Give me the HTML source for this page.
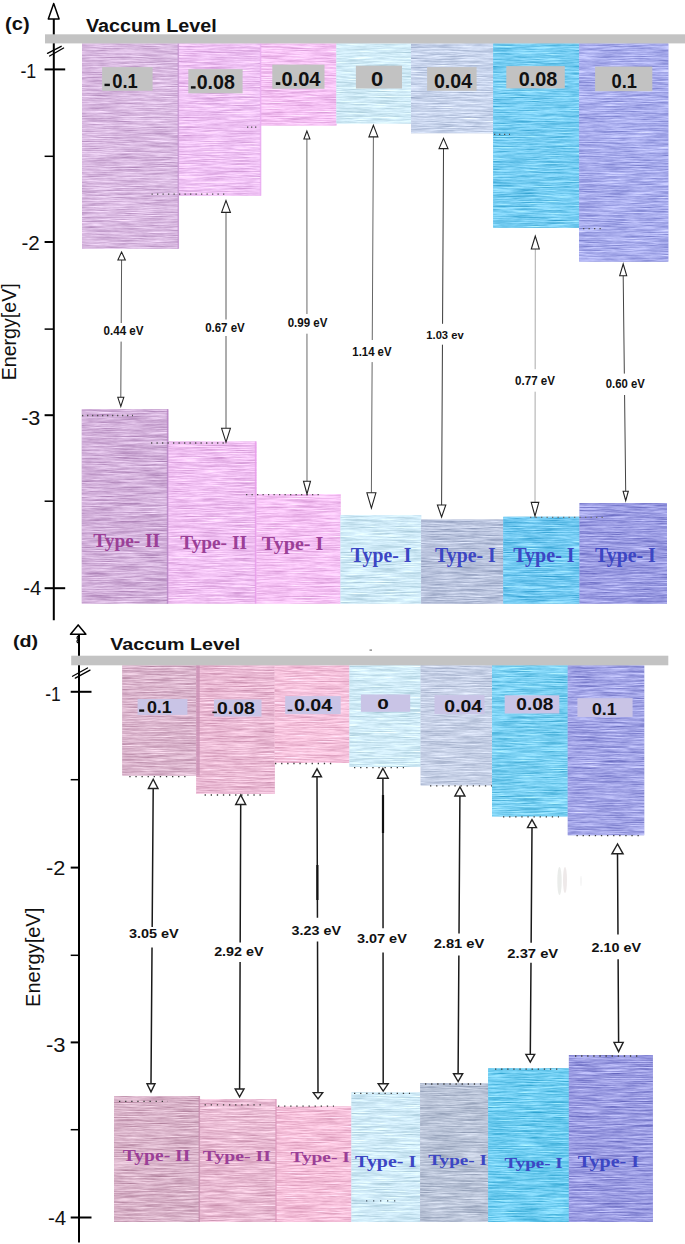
<!DOCTYPE html><html><head><meta charset="utf-8"><style>html,body{margin:0;padding:0;background:#fff;width:685px;height:1244px;overflow:hidden}svg{display:block}</style></head><body>
<svg width="685" height="1244" viewBox="0 0 685 1244">
<defs><filter id="fcc0" x="0" y="0" width="1" height="1" color-interpolation-filters="sRGB"><feTurbulence type="fractalNoise" baseFrequency="0.035 1.2" numOctaves="4" seed="0"/><feColorMatrix type="matrix" values="0.3867 0 0 0 0.6537  0.4702 0 0 0 0.4865  0.3658 0 0 0 0.6955  0 0 0 0 1"/><feComposite in2="SourceGraphic" operator="in"/></filter><filter id="fcc1" x="0" y="0" width="1" height="1" color-interpolation-filters="sRGB"><feTurbulence type="fractalNoise" baseFrequency="0.035 1.2" numOctaves="4" seed="7"/><feColorMatrix type="matrix" values="0.3267 0 0 0 0.7739  0.4441 0 0 0 0.5387  0.3137 0 0 0 0.8000  0 0 0 0 1"/><feComposite in2="SourceGraphic" operator="in"/></filter><filter id="fcc2" x="0" y="0" width="1" height="1" color-interpolation-filters="sRGB"><feTurbulence type="fractalNoise" baseFrequency="0.035 1.2" numOctaves="4" seed="14"/><feColorMatrix type="matrix" values="0.3111 0 0 0 0.8052  0.4441 0 0 0 0.5387  0.3137 0 0 0 0.8000  0 0 0 0 1"/><feComposite in2="SourceGraphic" operator="in"/></filter><filter id="fcc3" x="0" y="0" width="1" height="1" color-interpolation-filters="sRGB"><feTurbulence type="fractalNoise" baseFrequency="0.035 1.2" numOctaves="4" seed="21"/><feColorMatrix type="matrix" values="0.4076 0 0 0 0.6119  0.3372 0 0 0 0.7530  0.3059 0 0 0 0.8157  0 0 0 0 1"/><feComposite in2="SourceGraphic" operator="in"/></filter><filter id="fcc4" x="0" y="0" width="1" height="1" color-interpolation-filters="sRGB"><feTurbulence type="fractalNoise" baseFrequency="0.035 1.2" numOctaves="4" seed="28"/><feColorMatrix type="matrix" values="0.4284 0 0 0 0.5701  0.3971 0 0 0 0.6328  0.3345 0 0 0 0.7582  0 0 0 0 1"/><feComposite in2="SourceGraphic" operator="in"/></filter><filter id="fcc5" x="0" y="0" width="1" height="1" color-interpolation-filters="sRGB"><feTurbulence type="fractalNoise" baseFrequency="0.035 1.2" numOctaves="4" seed="35"/><feColorMatrix type="matrix" values="0.6423 0 0 0 0.1416  0.4154 0 0 0 0.5962  0.3189 0 0 0 0.7896  0 0 0 0 1"/><feComposite in2="SourceGraphic" operator="in"/></filter><filter id="fcc6" x="0" y="0" width="1" height="1" color-interpolation-filters="sRGB"><feTurbulence type="fractalNoise" baseFrequency="0.035 1.2" numOctaves="4" seed="42"/><feColorMatrix type="matrix" values="0.5119 0 0 0 0.4029  0.5015 0 0 0 0.4238  0.3345 0 0 0 0.7582  0 0 0 0 1"/><feComposite in2="SourceGraphic" operator="in"/></filter><filter id="fcv0" x="0" y="0" width="1" height="1" color-interpolation-filters="sRGB"><feTurbulence type="fractalNoise" baseFrequency="0.035 1.2" numOctaves="4" seed="3"/><feColorMatrix type="matrix" values="0.4024 0 0 0 0.6224  0.4910 0 0 0 0.4447  0.3815 0 0 0 0.6642  0 0 0 0 1"/><feComposite in2="SourceGraphic" operator="in"/></filter><filter id="fcv1" x="0" y="0" width="1" height="1" color-interpolation-filters="sRGB"><feTurbulence type="fractalNoise" baseFrequency="0.035 1.2" numOctaves="4" seed="10"/><feColorMatrix type="matrix" values="0.3241 0 0 0 0.7791  0.4493 0 0 0 0.5283  0.3189 0 0 0 0.7896  0 0 0 0 1"/><feComposite in2="SourceGraphic" operator="in"/></filter><filter id="fcv2" x="0" y="0" width="1" height="1" color-interpolation-filters="sRGB"><feTurbulence type="fractalNoise" baseFrequency="0.035 1.2" numOctaves="4" seed="17"/><feColorMatrix type="matrix" values="0.3111 0 0 0 0.8052  0.4441 0 0 0 0.5387  0.3137 0 0 0 0.8000  0 0 0 0 1"/><feComposite in2="SourceGraphic" operator="in"/></filter><filter id="fcv3" x="0" y="0" width="1" height="1" color-interpolation-filters="sRGB"><feTurbulence type="fractalNoise" baseFrequency="0.035 1.2" numOctaves="4" seed="24"/><feColorMatrix type="matrix" values="0.4102 0 0 0 0.6067  0.3398 0 0 0 0.7478  0.3059 0 0 0 0.8157  0 0 0 0 1"/><feComposite in2="SourceGraphic" operator="in"/></filter><filter id="fcv4" x="0" y="0" width="1" height="1" color-interpolation-filters="sRGB"><feTurbulence type="fractalNoise" baseFrequency="0.035 1.2" numOctaves="4" seed="31"/><feColorMatrix type="matrix" values="0.4702 0 0 0 0.4865  0.4441 0 0 0 0.5387  0.3763 0 0 0 0.6746  0 0 0 0 1"/><feComposite in2="SourceGraphic" operator="in"/></filter><filter id="fcv5" x="0" y="0" width="1" height="1" color-interpolation-filters="sRGB"><feTurbulence type="fractalNoise" baseFrequency="0.035 1.2" numOctaves="4" seed="38"/><feColorMatrix type="matrix" values="0.6579 0 0 0 0.1103  0.4284 0 0 0 0.5701  0.3241 0 0 0 0.7791  0 0 0 0 1"/><feComposite in2="SourceGraphic" operator="in"/></filter><filter id="fcv6" x="0" y="0" width="1" height="1" color-interpolation-filters="sRGB"><feTurbulence type="fractalNoise" baseFrequency="0.035 1.2" numOctaves="4" seed="45"/><feColorMatrix type="matrix" values="0.5484 0 0 0 0.3297  0.5458 0 0 0 0.3350  0.3606 0 0 0 0.7060  0 0 0 0 1"/><feComposite in2="SourceGraphic" operator="in"/></filter><filter id="fdc0" x="0" y="0" width="1" height="1" color-interpolation-filters="sRGB"><feTurbulence type="fractalNoise" baseFrequency="0.035 1.2" numOctaves="4" seed="50"/><feColorMatrix type="matrix" values="0.3815 0 0 0 0.6642  0.4806 0 0 0 0.4656  0.4180 0 0 0 0.5910  0 0 0 0 1"/><feComposite in2="SourceGraphic" operator="in"/></filter><filter id="fdc1" x="0" y="0" width="1" height="1" color-interpolation-filters="sRGB"><feTurbulence type="fractalNoise" baseFrequency="0.035 1.2" numOctaves="4" seed="57"/><feColorMatrix type="matrix" values="0.3398 0 0 0 0.7478  0.4649 0 0 0 0.4969  0.3971 0 0 0 0.6328  0 0 0 0 1"/><feComposite in2="SourceGraphic" operator="in"/></filter><filter id="fdc2" x="0" y="0" width="1" height="1" color-interpolation-filters="sRGB"><feTurbulence type="fractalNoise" baseFrequency="0.035 1.2" numOctaves="4" seed="64"/><feColorMatrix type="matrix" values="0.3111 0 0 0 0.8052  0.4441 0 0 0 0.5387  0.3763 0 0 0 0.6746  0 0 0 0 1"/><feComposite in2="SourceGraphic" operator="in"/></filter><filter id="fdc3" x="0" y="0" width="1" height="1" color-interpolation-filters="sRGB"><feTurbulence type="fractalNoise" baseFrequency="0.035 1.2" numOctaves="4" seed="71"/><feColorMatrix type="matrix" values="0.4076 0 0 0 0.6119  0.3372 0 0 0 0.7530  0.3059 0 0 0 0.8157  0 0 0 0 1"/><feComposite in2="SourceGraphic" operator="in"/></filter><filter id="fdc4" x="0" y="0" width="1" height="1" color-interpolation-filters="sRGB"><feTurbulence type="fractalNoise" baseFrequency="0.035 1.2" numOctaves="4" seed="78"/><feColorMatrix type="matrix" values="0.4336 0 0 0 0.5596  0.4076 0 0 0 0.6119  0.3502 0 0 0 0.7269  0 0 0 0 1"/><feComposite in2="SourceGraphic" operator="in"/></filter><filter id="fdc5" x="0" y="0" width="1" height="1" color-interpolation-filters="sRGB"><feTurbulence type="fractalNoise" baseFrequency="0.035 1.2" numOctaves="4" seed="85"/><feColorMatrix type="matrix" values="0.6318 0 0 0 0.1625  0.4076 0 0 0 0.6119  0.3189 0 0 0 0.7896  0 0 0 0 1"/><feComposite in2="SourceGraphic" operator="in"/></filter><filter id="fdc6" x="0" y="0" width="1" height="1" color-interpolation-filters="sRGB"><feTurbulence type="fractalNoise" baseFrequency="0.035 1.2" numOctaves="4" seed="92"/><feColorMatrix type="matrix" values="0.5275 0 0 0 0.3715  0.5223 0 0 0 0.3820  0.3502 0 0 0 0.7269  0 0 0 0 1"/><feComposite in2="SourceGraphic" operator="in"/></filter><filter id="fdv0" x="0" y="0" width="1" height="1" color-interpolation-filters="sRGB"><feTurbulence type="fractalNoise" baseFrequency="0.035 1.2" numOctaves="4" seed="53"/><feColorMatrix type="matrix" values="0.3867 0 0 0 0.6537  0.4858 0 0 0 0.4551  0.4284 0 0 0 0.5701  0 0 0 0 1"/><feComposite in2="SourceGraphic" operator="in"/></filter><filter id="fdv1" x="0" y="0" width="1" height="1" color-interpolation-filters="sRGB"><feTurbulence type="fractalNoise" baseFrequency="0.035 1.2" numOctaves="4" seed="60"/><feColorMatrix type="matrix" values="0.3450 0 0 0 0.7373  0.4649 0 0 0 0.4969  0.4024 0 0 0 0.6224  0 0 0 0 1"/><feComposite in2="SourceGraphic" operator="in"/></filter><filter id="fdv2" x="0" y="0" width="1" height="1" color-interpolation-filters="sRGB"><feTurbulence type="fractalNoise" baseFrequency="0.035 1.2" numOctaves="4" seed="67"/><feColorMatrix type="matrix" values="0.3111 0 0 0 0.8052  0.4493 0 0 0 0.5283  0.3815 0 0 0 0.6642  0 0 0 0 1"/><feComposite in2="SourceGraphic" operator="in"/></filter><filter id="fdv3" x="0" y="0" width="1" height="1" color-interpolation-filters="sRGB"><feTurbulence type="fractalNoise" baseFrequency="0.035 1.2" numOctaves="4" seed="74"/><feColorMatrix type="matrix" values="0.4102 0 0 0 0.6067  0.3398 0 0 0 0.7478  0.3059 0 0 0 0.8157  0 0 0 0 1"/><feComposite in2="SourceGraphic" operator="in"/></filter><filter id="fdv4" x="0" y="0" width="1" height="1" color-interpolation-filters="sRGB"><feTurbulence type="fractalNoise" baseFrequency="0.035 1.2" numOctaves="4" seed="81"/><feColorMatrix type="matrix" values="0.4702 0 0 0 0.4865  0.4441 0 0 0 0.5387  0.3919 0 0 0 0.6433  0 0 0 0 1"/><feComposite in2="SourceGraphic" operator="in"/></filter><filter id="fdv5" x="0" y="0" width="1" height="1" color-interpolation-filters="sRGB"><feTurbulence type="fractalNoise" baseFrequency="0.035 1.2" numOctaves="4" seed="88"/><feColorMatrix type="matrix" values="0.6631 0 0 0 0.0998  0.4180 0 0 0 0.5910  0.3241 0 0 0 0.7791  0 0 0 0 1"/><feComposite in2="SourceGraphic" operator="in"/></filter><filter id="fdv6" x="0" y="0" width="1" height="1" color-interpolation-filters="sRGB"><feTurbulence type="fractalNoise" baseFrequency="0.035 1.2" numOctaves="4" seed="95"/><feColorMatrix type="matrix" values="0.5458 0 0 0 0.3350  0.5432 0 0 0 0.3402  0.3606 0 0 0 0.7060  0 0 0 0 1"/><feComposite in2="SourceGraphic" operator="in"/></filter></defs>
<rect x="82" y="43.4" width="96.50" height="205.30" fill="#d8b8e0"/>
<rect x="82" y="43.4" width="96.50" height="205.30" fill="#000" filter="url(#fcc0)"/>
<rect x="178.5" y="43.4" width="82.30" height="152.30" fill="#efc2f4"/>
<rect x="178.5" y="43.4" width="82.30" height="152.30" fill="#000" filter="url(#fcc1)"/>
<rect x="260.8" y="43.4" width="75.70" height="82.10" fill="#f5c2f4"/>
<rect x="260.8" y="43.4" width="75.70" height="82.10" fill="#000" filter="url(#fcc2)"/>
<rect x="336.5" y="43.4" width="74.50" height="80.10" fill="#d0ebf7"/>
<rect x="336.5" y="43.4" width="74.50" height="80.10" fill="#000" filter="url(#fcc3)"/>
<rect x="411" y="43.4" width="82.20" height="89.80" fill="#c8d4ec"/>
<rect x="411" y="43.4" width="82.20" height="89.80" fill="#000" filter="url(#fcc4)"/>
<rect x="493.2" y="43.4" width="85.90" height="184.30" fill="#76cdf2"/>
<rect x="493.2" y="43.4" width="85.90" height="184.30" fill="#000" filter="url(#fcc5)"/>
<rect x="579.1" y="43.4" width="89.20" height="218.20" fill="#a8acec"/>
<rect x="579.1" y="43.4" width="89.20" height="218.20" fill="#000" filter="url(#fcc6)"/>
<rect x="81.8" y="409.2" width="86.40" height="194.40" fill="#d2b0da"/>
<rect x="81.8" y="409.2" width="86.40" height="194.40" fill="#000" filter="url(#fcv0)"/>
<rect x="168.2" y="441.5" width="88.20" height="162.10" fill="#f0c0f2"/>
<rect x="168.2" y="441.5" width="88.20" height="162.10" fill="#000" filter="url(#fcv1)"/>
<rect x="256.4" y="494" width="84.20" height="109.60" fill="#f5c2f4"/>
<rect x="256.4" y="494" width="84.20" height="109.60" fill="#000" filter="url(#fcv2)"/>
<rect x="340.6" y="515" width="80.60" height="88.60" fill="#cfeaf7"/>
<rect x="340.6" y="515" width="80.60" height="88.60" fill="#000" filter="url(#fcv3)"/>
<rect x="421.2" y="519.6" width="82.10" height="84.00" fill="#b8c2dc"/>
<rect x="421.2" y="519.6" width="82.10" height="84.00" fill="#000" filter="url(#fcv4)"/>
<rect x="503.3" y="516.8" width="76.30" height="86.80" fill="#70c8f0"/>
<rect x="503.3" y="516.8" width="76.30" height="86.80" fill="#000" filter="url(#fcv5)"/>
<rect x="579.6" y="503" width="87.40" height="100.60" fill="#9a9be2"/>
<rect x="579.6" y="503" width="87.40" height="100.60" fill="#000" filter="url(#fcv6)"/>
<rect x="166.85" y="409.2" width="1.5" height="194.40" fill="#b781c4" opacity="0.8"/>
<rect x="254.85" y="441.5" width="1.5" height="162.10" fill="#e79aea" opacity="0.8"/>
<rect x="177.55" y="43.4" width="1.5" height="205.30" fill="#c494d0" opacity="0.8"/>
<rect x="259.85" y="43.4" width="1.5" height="152.30" fill="#e9aaf0" opacity="0.8"/>
<line x1="151.5" y1="194.2" x2="227" y2="194.2" stroke="#505050" stroke-width="1.3" stroke-dasharray="1.3 4.2"/>
<line x1="247" y1="127.2" x2="258" y2="127.2" stroke="#505050" stroke-width="1.3" stroke-dasharray="1.3 2.7"/>
<line x1="494" y1="134.3" x2="510" y2="134.3" stroke="#505050" stroke-width="1.3" stroke-dasharray="1.3 3.7"/>
<line x1="583" y1="228.6" x2="605" y2="228.6" stroke="#505050" stroke-width="1.3" stroke-dasharray="1.3 4.2"/>
<line x1="82" y1="415.5" x2="133" y2="415.5" stroke="#505050" stroke-width="1.3" stroke-dasharray="1.3 3.7"/>
<line x1="151" y1="443" x2="227" y2="443" stroke="#505050" stroke-width="1.3" stroke-dasharray="1.3 4.2"/>
<line x1="246" y1="494.6" x2="323" y2="494.6" stroke="#505050" stroke-width="1.3" stroke-dasharray="1.3 4.2"/>
<line x1="530" y1="517.3" x2="604" y2="517.3" stroke="#707070" stroke-width="1.3" stroke-dasharray="1.3 4.2"/>
<line x1="53.8" y1="19" x2="53.8" y2="620.3" stroke="#000" stroke-width="2"/>
<path d="M53.7 3.4 L48.300000000000004 19 L59.1 19 Z" fill="#fff" stroke="#000" stroke-width="1.5" stroke-linejoin="round"/>
<rect x="45" y="34.3" width="640.00" height="9.10" fill="#c3c3c3"/>
<rect x="102.1" y="67.1" width="50.50" height="23.70" fill="#c2c2c2"/>
<rect x="188.3" y="69.1" width="54.30" height="24.20" fill="#c2c2c2"/>
<rect x="272.3" y="64.6" width="52.20" height="24.20" fill="#c2c2c2"/>
<rect x="355.9" y="65.7" width="46.10" height="22.80" fill="#c2c2c2"/>
<rect x="427.1" y="67.1" width="49.50" height="23.70" fill="#c2c2c2"/>
<rect x="506.3" y="66.1" width="58.50" height="22.30" fill="#c2c2c2"/>
<rect x="595.1" y="66.6" width="57.20" height="24.60" fill="#c2c2c2"/>
<rect x="104.5" y="83.7" width="5.40" height="2.40" fill="#111"/>
<rect x="190.9" y="86.2" width="4.70" height="2.40" fill="#111"/>
<rect x="275.8" y="82.2" width="4.50" height="2.80" fill="#111"/>
<line x1="47.5" y1="53.3" x2="61.2" y2="46.3" stroke="#000" stroke-width="1.3" stroke-linecap="round"/>
<line x1="49.6" y1="56" x2="63.6" y2="48" stroke="#000" stroke-width="1.3" stroke-linecap="round"/>
<line x1="44.6" y1="69.4" x2="65.2" y2="69.4" stroke="#000" stroke-width="2"/>
<line x1="44.6" y1="242" x2="53.8" y2="242" stroke="#000" stroke-width="2"/>
<line x1="44.6" y1="415.2" x2="53.8" y2="415.2" stroke="#000" stroke-width="2"/>
<line x1="44.6" y1="588.2" x2="65.2" y2="588.2" stroke="#000" stroke-width="2"/>
<line x1="44.6" y1="156.3" x2="53.8" y2="156.3" stroke="#000" stroke-width="1.5"/>
<line x1="44.6" y1="329.1" x2="53.8" y2="329.1" stroke="#000" stroke-width="1.5"/>
<line x1="44.6" y1="501.2" x2="53.8" y2="501.2" stroke="#000" stroke-width="1.5"/>
<path d="M121.6 260 L121.23 323 M121.12 341.6 L120.8 397.3" stroke="#5a5a5a" stroke-width="1.0" fill="none"/>
<path d="M121.6 252 L117.89999999999999 260 L125.3 260 Z" fill="#fff" stroke="#222" stroke-width="1.1"/>
<path d="M120.8 406.4 L117.8 397.3 L123.8 397.3 Z" fill="#fff" stroke="#222" stroke-width="1.1"/>
<path d="M226 212.4 L226.00 319.5 M226.00 336 L226 428.3" stroke="#5a5a5a" stroke-width="1.0" fill="none"/>
<path d="M226 200.5 L221.6 212.4 L230.4 212.4 Z" fill="#fff" stroke="#222" stroke-width="1.1"/>
<path d="M226 442.2 L221.6 428.3 L230.4 428.3 Z" fill="#fff" stroke="#222" stroke-width="1.1"/>
<path d="M306.9 139 L306.95 314 M306.96 333.7 L307 481.2" stroke="#6a6a6a" stroke-width="1.0" fill="none"/>
<path d="M306.9 131 L303.9 139 L309.9 139 Z" fill="#fff" stroke="#222" stroke-width="1.1"/>
<path d="M307 494 L303.5 481.2 L310.5 481.2 Z" fill="#fff" stroke="#222" stroke-width="1.1"/>
<path d="M373.4 136.9 L372.26 340 M372.13 362.1 L371.4 492.8" stroke="#666666" stroke-width="1.0" fill="none"/>
<path d="M373.4 125.2 L368.9 136.9 L377.9 136.9 Z" fill="#fff" stroke="#222" stroke-width="1.1"/>
<path d="M371.4 508.1 L366.9 492.8 L375.9 492.8 Z" fill="#fff" stroke="#222" stroke-width="1.1"/>
<path d="M443.5 148.6 L442.57 323.8 M442.45 344.7 L441.6 505" stroke="#3a3a3a" stroke-width="1.0" fill="none"/>
<path d="M443.5 138.4 L439.0 148.6 L448.0 148.6 Z" fill="#fff" stroke="#222" stroke-width="1.1"/>
<path d="M441.6 517 L437.40000000000003 505 L445.8 505 Z" fill="#fff" stroke="#222" stroke-width="1.1"/>
<path d="M535.3 249 L535.16 369.2 M535.13 391.7 L535 502.4" stroke="#aaaaaa" stroke-width="1.0" fill="none"/>
<path d="M535.3 236 L531.3 249 L539.3 249 Z" fill="#fff" stroke="#222" stroke-width="1.1"/>
<path d="M535 516 L531.2 502.4 L538.8 502.4 Z" fill="#fff" stroke="#222" stroke-width="1.1"/>
<path d="M623.2 275.7 L624.34 373.6 M624.58 395 L625.7 491.2" stroke="#444444" stroke-width="1.0" fill="none"/>
<path d="M623.2 264 L619.7 275.7 L626.7 275.7 Z" fill="#fff" stroke="#222" stroke-width="1.1"/>
<path d="M625.7 500.7 L623.1 491.2 L628.3000000000001 491.2 Z" fill="#fff" stroke="#222" stroke-width="1.1"/>
<rect x="122.3" y="665.3" width="75.20" height="110.20" fill="#dab4cc"/>
<rect x="122.3" y="665.3" width="75.20" height="110.20" fill="#000" filter="url(#fdc0)"/>
<rect x="196.3" y="665.3" width="78.40" height="128.70" fill="#eabad4"/>
<rect x="196.3" y="665.3" width="78.40" height="128.70" fill="#000" filter="url(#fdc1)"/>
<rect x="274.7" y="665.3" width="74.80" height="97.70" fill="#f5c2dc"/>
<rect x="274.7" y="665.3" width="74.80" height="97.70" fill="#000" filter="url(#fdc2)"/>
<rect x="349.5" y="665.3" width="71.20" height="101.70" fill="#d0ebf7"/>
<rect x="349.5" y="665.3" width="71.20" height="101.70" fill="#000" filter="url(#fdc3)"/>
<rect x="420.7" y="665.3" width="71.30" height="120.00" fill="#c6d0e6"/>
<rect x="420.7" y="665.3" width="71.30" height="120.00" fill="#000" filter="url(#fdc4)"/>
<rect x="492" y="665.3" width="75.80" height="151.10" fill="#7ad0f2"/>
<rect x="492" y="665.3" width="75.80" height="151.10" fill="#000" filter="url(#fdc5)"/>
<rect x="567.8" y="665.3" width="76.40" height="169.90" fill="#a2a4e6"/>
<rect x="567.8" y="665.3" width="76.40" height="169.90" fill="#000" filter="url(#fdc6)"/>
<rect x="114" y="1096" width="85.30" height="126.00" fill="#d8b2c8"/>
<rect x="114" y="1096" width="85.30" height="126.00" fill="#000" filter="url(#fdv0)"/>
<rect x="199.3" y="1099" width="76.70" height="123.00" fill="#e8bad2"/>
<rect x="199.3" y="1099" width="76.70" height="123.00" fill="#000" filter="url(#fdv1)"/>
<rect x="276" y="1106.5" width="75.50" height="115.50" fill="#f5c0da"/>
<rect x="276" y="1106.5" width="75.50" height="115.50" fill="#000" filter="url(#fdv2)"/>
<rect x="351.5" y="1092.5" width="68.70" height="129.50" fill="#cfeaf7"/>
<rect x="351.5" y="1092.5" width="68.70" height="129.50" fill="#000" filter="url(#fdv3)"/>
<rect x="420.2" y="1083" width="68.00" height="139.00" fill="#b8c2d6"/>
<rect x="420.2" y="1083" width="68.00" height="139.00" fill="#000" filter="url(#fdv4)"/>
<rect x="488.2" y="1068.4" width="80.70" height="153.60" fill="#6eccf0"/>
<rect x="488.2" y="1068.4" width="80.70" height="153.60" fill="#000" filter="url(#fdv5)"/>
<rect x="568.9" y="1055" width="83.90" height="167.00" fill="#9b9ce2"/>
<rect x="568.9" y="1055" width="83.90" height="167.00" fill="#000" filter="url(#fdv6)"/>
<rect x="198.55" y="1096" width="1.5" height="126.00" fill="#c48bac" opacity="0.8"/>
<rect x="275.25" y="1099" width="1.5" height="123.00" fill="#dc97bb" opacity="0.8"/>
<rect x="196.25" y="665.3" width="3.5" height="110.20" fill="#c78eb3" opacity="0.8"/>
<line x1="129.3" y1="776.6" x2="186" y2="776.6" stroke="#3a3a3a" stroke-width="1.3" stroke-dasharray="1.3 4.8"/>
<line x1="204.6" y1="795" x2="261" y2="795" stroke="#3a3a3a" stroke-width="1.3" stroke-dasharray="1.3 4.8"/>
<line x1="275" y1="763.5" x2="335" y2="763.5" stroke="#3a3a3a" stroke-width="1.3" stroke-dasharray="1.3 4.8"/>
<line x1="354" y1="767.6" x2="404" y2="767.6" stroke="#3a3a3a" stroke-width="1.3" stroke-dasharray="1.3 4.8"/>
<line x1="430" y1="785.8" x2="492" y2="785.8" stroke="#3a3a3a" stroke-width="1.3" stroke-dasharray="1.3 4.8"/>
<line x1="503" y1="816.9" x2="559" y2="816.9" stroke="#3a3a3a" stroke-width="1.3" stroke-dasharray="1.3 4.8"/>
<line x1="576.5" y1="835.6" x2="641" y2="835.6" stroke="#3a3a3a" stroke-width="1.3" stroke-dasharray="1.3 4.8"/>
<line x1="119" y1="1101.3" x2="168" y2="1101.3" stroke="#3a3a3a" stroke-width="1.3" stroke-dasharray="1.3 4.8"/>
<line x1="204.6" y1="1104.8" x2="261" y2="1104.8" stroke="#3a3a3a" stroke-width="1.3" stroke-dasharray="1.3 4.8"/>
<line x1="278" y1="1106.2" x2="334" y2="1106.2" stroke="#3a3a3a" stroke-width="1.3" stroke-dasharray="1.3 4.8"/>
<line x1="354" y1="1093.4" x2="410" y2="1093.4" stroke="#3a3a3a" stroke-width="1.3" stroke-dasharray="1.3 4.8"/>
<line x1="425" y1="1084" x2="482" y2="1084" stroke="#3a3a3a" stroke-width="1.3" stroke-dasharray="1.3 4.8"/>
<line x1="495" y1="1069.2" x2="562" y2="1069.2" stroke="#3a3a3a" stroke-width="1.3" stroke-dasharray="1.3 4.8"/>
<line x1="575" y1="1056" x2="641" y2="1056" stroke="#3a3a3a" stroke-width="1.3" stroke-dasharray="1.3 4.8"/>
<line x1="366" y1="1200.8" x2="398" y2="1200.8" stroke="#4a5a66" stroke-width="1.3" stroke-dasharray="1.3 5.7"/>
<line x1="79.0" y1="634.3" x2="79.0" y2="1242.5" stroke="#000" stroke-width="2"/>
<path d="M78.2 624.9 L70.5 634.3 L85.9 634.3 Z" fill="#fff" stroke="#000" stroke-width="1.5" stroke-linejoin="round"/>
<rect x="71.2" y="655.7" width="597.10" height="9.60" fill="#c3c3c3"/>
<rect x="137.6" y="699" width="49.80" height="15.90" fill="#c9c4e6"/>
<rect x="214" y="699.5" width="47.50" height="17.10" fill="#c9c4e6"/>
<rect x="285.2" y="696.1" width="55.50" height="18.00" fill="#c9c4e6"/>
<rect x="360.9" y="694.5" width="49.30" height="17.30" fill="#c9c4e6"/>
<rect x="434.5" y="695.1" width="50.00" height="19.00" fill="#c9c4e6"/>
<rect x="504.7" y="695.3" width="54.60" height="18.20" fill="#c9c4e6"/>
<rect x="577.4" y="698.1" width="55.20" height="18.90" fill="#c9c4e6"/>
<rect x="139.2" y="709.4" width="5.00" height="2.40" fill="#111"/>
<rect x="212.4" y="711.6" width="4.50" height="1.60" fill="#111"/>
<rect x="287.6" y="709.6" width="4.70" height="1.60" fill="#111"/>
<line x1="72.5" y1="676.2" x2="87.5" y2="668" stroke="#000" stroke-width="1.3" stroke-linecap="round"/>
<line x1="75.3" y1="678.1" x2="90" y2="670.1" stroke="#000" stroke-width="1.3" stroke-linecap="round"/>
<line x1="70.7" y1="691.8" x2="91.5" y2="691.8" stroke="#000" stroke-width="2"/>
<line x1="70.7" y1="867.6" x2="79.0" y2="867.6" stroke="#000" stroke-width="2"/>
<line x1="70.7" y1="1042.4" x2="79.0" y2="1042.4" stroke="#000" stroke-width="2"/>
<line x1="70.7" y1="1217.5" x2="91.5" y2="1217.5" stroke="#000" stroke-width="2"/>
<line x1="70.7" y1="779.7" x2="79.0" y2="779.7" stroke="#000" stroke-width="1.5"/>
<line x1="70.7" y1="955.3" x2="79.0" y2="955.3" stroke="#000" stroke-width="1.5"/>
<line x1="70.7" y1="1129.7" x2="79.0" y2="1129.7" stroke="#000" stroke-width="1.5"/>
<path d="M153.2 788.5 L152.17 927 M152.02 947.4 L151 1083.8" stroke="#1a1a1a" stroke-width="1.5" fill="none"/>
<path d="M153.2 779.3 L148.39999999999998 788.5 L158.0 788.5 Z" fill="#fff" stroke="#222" stroke-width="1.4"/>
<path d="M151 1091.9 L147.0 1083.8 L155.0 1083.8 Z" fill="#fff" stroke="#222" stroke-width="1.4"/>
<path d="M240.7 804.5 L240.17 942.4 M240.09 962 L239.6 1089" stroke="#1a1a1a" stroke-width="1.5" fill="none"/>
<path d="M240.7 795 L235.7 804.5 L245.7 804.5 Z" fill="#fff" stroke="#222" stroke-width="1.4"/>
<path d="M239.6 1096.8 L235.2 1089 L244.0 1089 Z" fill="#fff" stroke="#222" stroke-width="1.4"/>
<path d="M317 776.8 L317.45 917.8 M317.52 941.4 L318 1092.6" stroke="#1a1a1a" stroke-width="1.5" fill="none"/>
<path d="M317 768.8 L312.5 776.8 L321.5 776.8 Z" fill="#fff" stroke="#222" stroke-width="1.4"/>
<path d="M318 1098.9 L313.3 1092.6 L322.7 1092.6 Z" fill="#fff" stroke="#222" stroke-width="1.4"/>
<path d="M382.9 778.2 L383.05 928.2 M383.07 952.4 L383.2 1083.8" stroke="#1a1a1a" stroke-width="1.5" fill="none"/>
<path d="M382.9 768.4 L377.59999999999997 778.2 L388.2 778.2 Z" fill="#fff" stroke="#222" stroke-width="1.4"/>
<path d="M383.2 1091.1 L378.2 1083.8 L388.2 1083.8 Z" fill="#fff" stroke="#222" stroke-width="1.4"/>
<path d="M459.9 796 L459.01 933.5 M458.87 955.5 L458.1 1073.7" stroke="#1a1a1a" stroke-width="1.5" fill="none"/>
<path d="M459.9 787 L454.9 796 L464.9 796 Z" fill="#fff" stroke="#222" stroke-width="1.4"/>
<path d="M458.1 1081.5 L453.5 1073.7 L462.70000000000005 1073.7 Z" fill="#fff" stroke="#222" stroke-width="1.4"/>
<path d="M532 827.6 L531.14 942.7 M530.99 962.7 L530.3 1054.4" stroke="#1a1a1a" stroke-width="1.5" fill="none"/>
<path d="M532 819.6 L527.5 827.6 L536.5 827.6 Z" fill="#fff" stroke="#222" stroke-width="1.4"/>
<path d="M530.3 1062.2 L525.9 1054.4 L534.6999999999999 1054.4 Z" fill="#fff" stroke="#222" stroke-width="1.4"/>
<path d="M617.5 853.8 L617.97 934.5 M618.11 959.2 L618.6 1042.4" stroke="#1a1a1a" stroke-width="1.5" fill="none"/>
<path d="M617.5 844 L611.9 853.8 L623.1 853.8 Z" fill="#fff" stroke="#222" stroke-width="1.4"/>
<path d="M618.6 1051.6 L614.0 1042.4 L623.2 1042.4 Z" fill="#fff" stroke="#222" stroke-width="1.4"/>
<line x1="383" y1="795" x2="383" y2="833" stroke="#111" stroke-width="2.2"/>
<line x1="317.4" y1="865" x2="317.4" y2="900" stroke="#111" stroke-width="2.2"/>
<ellipse cx="559.5" cy="881" rx="2.2" ry="14" fill="#d8ddd8" opacity="0.55"/><ellipse cx="565" cy="880" rx="2" ry="13" fill="#ddd4d4" opacity="0.5"/><ellipse cx="581" cy="881" rx="1" ry="5" fill="#eee" opacity="0.5"/>
<rect x="369.5" y="649.5" width="2.5" height="1.2" fill="#777"/>
<path d="M78 636 q-2 2 0 3.5 q-2 2 0 3.5" stroke="#000" stroke-width="1.2" fill="none"/>
<text transform="translate(5.10,29.86) scale(1.0433,1)" style="font-family:'Liberation Sans', sans-serif;font-weight:bold;font-size:19.26px" fill="#111">(c)</text>
<text transform="translate(85.90,32.10) scale(1.0391,1)" style="font-family:'Liberation Sans', sans-serif;font-weight:bold;font-size:19.04px" fill="#111">Vaccum Level</text>
<text transform="translate(20.39,78.40) scale(0.8747,1)" style="font-family:'Liberation Sans', sans-serif;font-weight:normal;font-size:20.43px" fill="#111">-1</text>
<text transform="translate(21.38,249.80) scale(1.0313,1)" style="font-family:'Liberation Sans', sans-serif;font-weight:normal;font-size:20.00px" fill="#111">-2</text>
<text transform="translate(21.14,424.60) scale(1.0440,1)" style="font-family:'Liberation Sans', sans-serif;font-weight:normal;font-size:20.71px" fill="#111">-3</text>
<text transform="translate(23.20,595.00) scale(0.9917,1)" style="font-family:'Liberation Sans', sans-serif;font-weight:normal;font-size:20.29px" fill="#111">-4</text>
<text transform="translate(112.27,87.50) scale(0.9038,1)" style="font-family:'Liberation Sans', sans-serif;font-weight:bold;font-size:20.29px" fill="#111">0.1</text>
<text transform="translate(196.72,88.80) scale(0.9450,1)" style="font-family:'Liberation Sans', sans-serif;font-weight:bold;font-size:20.71px" fill="#111">0.08</text>
<text transform="translate(281.40,85.50) scale(1.0273,1)" style="font-family:'Liberation Sans', sans-serif;font-weight:bold;font-size:19.57px" fill="#111">0.04</text>
<text transform="translate(371.12,86.40) scale(1.0580,1)" style="font-family:'Liberation Sans', sans-serif;font-weight:bold;font-size:20.71px" fill="#111">0</text>
<text transform="translate(433.91,87.50) scale(0.9678,1)" style="font-family:'Liberation Sans', sans-serif;font-weight:bold;font-size:20.29px" fill="#111">0.04</text>
<text transform="translate(518.81,85.50) scale(0.9754,1)" style="font-family:'Liberation Sans', sans-serif;font-weight:bold;font-size:20.29px" fill="#111">0.08</text>
<text transform="translate(611.57,88.40) scale(0.9102,1)" style="font-family:'Liberation Sans', sans-serif;font-weight:bold;font-size:20.14px" fill="#111">0.1</text>
<text transform="translate(103.54,335.30) scale(0.9036,1)" style="font-family:'Liberation Sans', sans-serif;font-weight:bold;font-size:12.86px" fill="#111">0.44 eV</text>
<text transform="translate(205.14,332.20) scale(0.9583,1)" style="font-family:'Liberation Sans', sans-serif;font-weight:bold;font-size:12.00px" fill="#111">0.67 eV</text>
<text transform="translate(287.64,326.50) scale(0.9495,1)" style="font-family:'Liberation Sans', sans-serif;font-weight:bold;font-size:12.14px" fill="#111">0.99 eV</text>
<text transform="translate(352.32,356.10) scale(0.9139,1)" style="font-family:'Liberation Sans', sans-serif;font-weight:bold;font-size:12.46px" fill="#111">1.14 eV</text>
<text transform="translate(426.33,338.60) scale(1.0045,1)" style="font-family:'Liberation Sans', sans-serif;font-weight:bold;font-size:11.14px" fill="#111">1.03 ev</text>
<text transform="translate(515.04,384.70) scale(0.9773,1)" style="font-family:'Liberation Sans', sans-serif;font-weight:bold;font-size:11.86px" fill="#111">0.77 eV</text>
<text transform="translate(605.75,387.80) scale(0.9325,1)" style="font-family:'Liberation Sans', sans-serif;font-weight:bold;font-size:12.14px" fill="#111">0.60 eV</text>
<text transform="translate(93.31,547.30) scale(1.0227,1)" style="font-family:'Liberation Serif', serif;font-weight:bold;font-size:18.92px" fill="#9b3f97">Type- II</text>
<text transform="translate(180.21,549.30) scale(1.0129,1)" style="font-family:'Liberation Serif', serif;font-weight:bold;font-size:19.08px" fill="#9b3f97">Type- II</text>
<text transform="translate(261.80,549.70) scale(1.0128,1)" style="font-family:'Liberation Serif', serif;font-weight:bold;font-size:19.85px" fill="#9b3f97">Type- I</text>
<text transform="translate(350.80,561.80) scale(0.9734,1)" style="font-family:'Liberation Serif', serif;font-weight:bold;font-size:20.31px" fill="#3c46c4">Type- I</text>
<text transform="translate(435.10,561.80) scale(0.9750,1)" style="font-family:'Liberation Serif', serif;font-weight:bold;font-size:20.31px" fill="#3c46c4">Type- I</text>
<text transform="translate(513.20,561.80) scale(0.9881,1)" style="font-family:'Liberation Serif', serif;font-weight:bold;font-size:20.31px" fill="#3c46c4">Type- I</text>
<text transform="translate(595.10,561.80) scale(0.9734,1)" style="font-family:'Liberation Serif', serif;font-weight:bold;font-size:20.31px" fill="#3c46c4">Type- I</text>
<text transform="translate(12.91,646.80) scale(1.2211,1)" style="font-family:'Liberation Sans', sans-serif;font-weight:bold;font-size:16.17px" fill="#111">(d)</text>
<text transform="translate(110.30,649.50) scale(1.1679,1)" style="font-family:'Liberation Sans', sans-serif;font-weight:bold;font-size:16.85px" fill="#111">Vaccum Level</text>
<text transform="translate(45.20,701.30) scale(0.8444,1)" style="font-family:'Liberation Sans', sans-serif;font-weight:normal;font-size:20.72px" fill="#111">-1</text>
<text transform="translate(46.03,875.00) scale(1.0647,1)" style="font-family:'Liberation Sans', sans-serif;font-weight:normal;font-size:20.43px" fill="#111">-2</text>
<text transform="translate(46.02,1051.60) scale(1.0621,1)" style="font-family:'Liberation Sans', sans-serif;font-weight:normal;font-size:20.71px" fill="#111">-3</text>
<text transform="translate(47.88,1225.10) scale(0.9886,1)" style="font-family:'Liberation Sans', sans-serif;font-weight:normal;font-size:20.72px" fill="#111">-4</text>
<text transform="translate(146.88,712.80) scale(1.0561,1)" style="font-family:'Liberation Sans', sans-serif;font-weight:bold;font-size:17.00px" fill="#111">0.1</text>
<text transform="translate(217.02,714.20) scale(1.2244,1)" style="font-family:'Liberation Sans', sans-serif;font-weight:bold;font-size:15.86px" fill="#111">0.08</text>
<text transform="translate(293.91,711.20) scale(1.2447,1)" style="font-family:'Liberation Sans', sans-serif;font-weight:bold;font-size:15.86px" fill="#111">0.04</text>
<text transform="translate(377.37,709.20) scale(1.3391,1)" style="font-family:'Liberation Sans', sans-serif;font-weight:bold;font-size:15.57px" fill="#111">0</text>
<text transform="translate(444.32,711.70) scale(1.1958,1)" style="font-family:'Liberation Sans', sans-serif;font-weight:bold;font-size:16.29px" fill="#111">0.04</text>
<text transform="translate(516.34,710.20) scale(1.1693,1)" style="font-family:'Liberation Sans', sans-serif;font-weight:bold;font-size:16.29px" fill="#111">0.08</text>
<text transform="translate(591.89,714.50) scale(1.0606,1)" style="font-family:'Liberation Sans', sans-serif;font-weight:bold;font-size:16.71px" fill="#111">0.1</text>
<text transform="translate(128.91,938.40) scale(1.1013,1)" style="font-family:'Liberation Sans', sans-serif;font-weight:bold;font-size:13.14px" fill="#111">3.05 eV</text>
<text transform="translate(214.17,956.20) scale(1.1384,1)" style="font-family:'Liberation Sans', sans-serif;font-weight:bold;font-size:12.57px" fill="#111">2.92 eV</text>
<text transform="translate(291.61,934.50) scale(1.1397,1)" style="font-family:'Liberation Sans', sans-serif;font-weight:bold;font-size:12.57px" fill="#111">3.23 eV</text>
<text transform="translate(356.91,943.30) scale(1.1536,1)" style="font-family:'Liberation Sans', sans-serif;font-weight:bold;font-size:12.57px" fill="#111">3.07 eV</text>
<text transform="translate(433.66,947.70) scale(1.1710,1)" style="font-family:'Liberation Sans', sans-serif;font-weight:bold;font-size:12.57px" fill="#111">2.81 eV</text>
<text transform="translate(507.36,957.80) scale(1.1103,1)" style="font-family:'Liberation Sans', sans-serif;font-weight:bold;font-size:13.29px" fill="#111">2.37 eV</text>
<text transform="translate(591.57,951.50) scale(1.0816,1)" style="font-family:'Liberation Sans', sans-serif;font-weight:bold;font-size:13.29px" fill="#111">2.10 eV</text>
<text transform="translate(122.71,1161.30) scale(1.2126,1)" style="font-family:'Liberation Serif', serif;font-weight:bold;font-size:16.15px" fill="#9b3f97">Type- II</text>
<text transform="translate(202.81,1160.70) scale(1.3070,1)" style="font-family:'Liberation Serif', serif;font-weight:bold;font-size:15.08px" fill="#9b3f97">Type- II</text>
<text transform="translate(290.41,1161.90) scale(1.3416,1)" style="font-family:'Liberation Serif', serif;font-weight:bold;font-size:14.46px" fill="#9b3f97">Type- I</text>
<text transform="translate(355.10,1166.90) scale(1.2340,1)" style="font-family:'Liberation Serif', serif;font-weight:bold;font-size:16.15px" fill="#3c46c4">Type- I</text>
<text transform="translate(428.22,1165.20) scale(1.2460,1)" style="font-family:'Liberation Serif', serif;font-weight:bold;font-size:15.38px" fill="#3c46c4">Type- I</text>
<text transform="translate(504.52,1167.80) scale(1.2455,1)" style="font-family:'Liberation Serif', serif;font-weight:bold;font-size:15.23px" fill="#3c46c4">Type- I</text>
<text transform="translate(577.70,1166.60) scale(1.2402,1)" style="font-family:'Liberation Serif', serif;font-weight:bold;font-size:16.15px" fill="#3c46c4">Type- I</text>
<text transform="translate(15.90,380.37) rotate(-90) scale(0.9414,1)" style="font-family:'Liberation Sans', sans-serif;font-size:20.87px" fill="#111">Energy[eV]</text>
<text transform="translate(39.80,1006.90) rotate(-90) scale(1.0179,1)" style="font-family:'Liberation Sans', sans-serif;font-size:19.71px" fill="#111">Energy[eV]</text>
</svg></body></html>
